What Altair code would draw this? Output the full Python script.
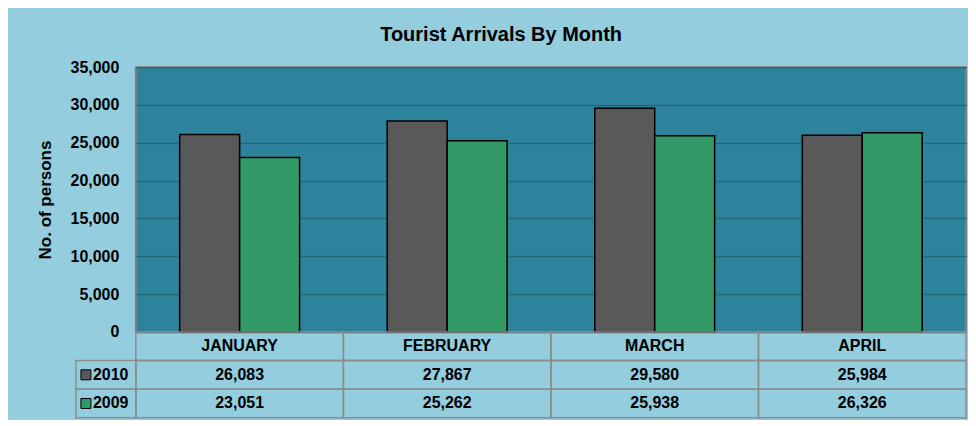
import altair as alt
import pandas as pd

months = ["JANUARY", "FEBRUARY", "MARCH", "APRIL"]
series = ["2010", "2009"]
arrivals_2010 = [26083, 27867, 29580, 25984]
arrivals_2009 = [23051, 25262, 25938, 26326]
y_ticks = [0, 5000, 10000, 15000, 20000, 25000, 30000, 35000]
bar_colors = ["#595959", "#339966"]
row_order = ["header", "2010", "2009"]

FONT = "Liberation Sans"
LIGHT = "#93CDDE"
PLOT_BG = "#2E839C"
GRID = "#24677B"
TABLE_LINE = "#8C8C8C"

rows = []
for s, vals in zip(series, [arrivals_2010, arrivals_2009]):
    for m, v in zip(months, vals):
        rows.append({"month": m, "series": s, "value": v})
df = pd.DataFrame(rows)

cells = []
for m in months:
    cells.append({"month": m, "row": "header", "label": m})
for s, vals in zip(series, [arrivals_2010, arrivals_2009]):
    for m, v in zip(months, vals):
        cells.append({"month": m, "row": s, "label": f"{v:,}"})
cells_df = pd.DataFrame(cells)
legend_df = pd.DataFrame({"row": series, "series": series})

color_scale = alt.Scale(domain=series, range=bar_colors)

bars = alt.Chart(df).mark_bar(stroke="black", strokeWidth=1.5).encode(
    x=alt.X("month:N", sort=months, axis=None,
            scale=alt.Scale(paddingInner=0.4224, paddingOuter=0.2112)),
    xOffset=alt.XOffset("series:N", sort=series,
                        scale=alt.Scale(domain=series, paddingInner=0, paddingOuter=0)),
    y=alt.Y("value:Q", scale=alt.Scale(domain=[0, 35000], nice=False),
            axis=alt.Axis(values=y_ticks, format=",d", title="No. of persons",
                          titleFontSize=17, titlePadding=16, labelPadding=17)),
    color=alt.Color("series:N", scale=color_scale, legend=None),
).properties(
    width=831, height=265,
    view=alt.ViewBackground(fill=PLOT_BG, stroke="#808080", strokeWidth=2),
)

xs = alt.X("month:N", sort=months, axis=None,
           scale=alt.Scale(domain=months, paddingInner=0, paddingOuter=0))
ys = alt.Y("row:N", axis=None,
           scale=alt.Scale(domain=row_order, paddingInner=0, paddingOuter=0))

grid_cells = alt.Chart(cells_df).mark_rect(
    fillOpacity=0, stroke=TABLE_LINE, strokeWidth=1.5
).encode(x=xs, y=ys)

cell_text = alt.Chart(cells_df).mark_text(
    font=FONT, fontSize=16, fontWeight="bold", color="black"
).encode(x=xs, y=ys, text="label:N")

legend_cells = alt.Chart(legend_df).mark_rect(
    fillOpacity=0, stroke=TABLE_LINE, strokeWidth=1.5
).encode(x=alt.value(-60), x2=alt.value(0), y=ys)

legend_sq = alt.Chart(legend_df).mark_square(
    size=100, filled=True, opacity=1, stroke="black", strokeWidth=1
).encode(
    x=alt.value(-50), y=ys,
    color=alt.Color("series:N", scale=color_scale, legend=None),
)

legend_text = alt.Chart(legend_df).mark_text(
    font=FONT, fontSize=16, fontWeight="bold", color="black", align="left"
).encode(x=alt.value(-43), y=ys, text="series:N")

table = alt.layer(grid_cells, cell_text, legend_cells, legend_sq, legend_text).properties(
    width=831, height=86
)

chart = alt.vconcat(bars, table, spacing=0, bounds="flush").resolve_scale(
    x="independent", y="independent"
).properties(
    title=alt.TitleParams("Tourist Arrivals By Month", font=FONT, fontSize=20,
                          fontWeight="bold", color="black", anchor="middle", offset=13),
    padding={"left": 27, "top": 17, "right": 0, "bottom": 0},
    background=LIGHT,
).configure_view(
    stroke="transparent"
).configure_axis(
    labelFont=FONT, labelFontSize=16, labelFontWeight="bold", labelColor="black",
    titleFont=FONT, titleFontWeight="bold", titleColor="black",
    domain=False, ticks=False, gridColor=GRID, gridWidth=1.5,
)

chart.save("out.html", embed_options={"renderer": "svg", "actions": False})
